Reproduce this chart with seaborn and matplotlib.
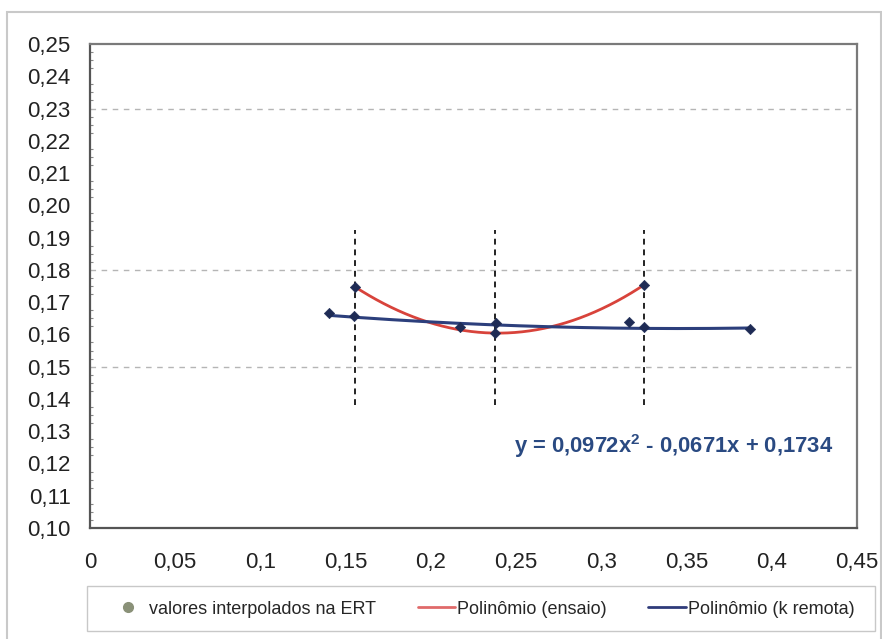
import numpy as np
import pandas as pd
import matplotlib
matplotlib.use("Agg")
import matplotlib.pyplot as plt
import matplotlib.patches as mpatches
from matplotlib.lines import Line2D
from matplotlib.ticker import MultipleLocator, FuncFormatter
import seaborn as sns

# Test points (ensaio) fitted with a quadratic
ensaio_x = [0.1553, 0.2379, 0.3252]
ensaio_y = [0.1748, 0.1604, 0.1754]

# Interpolated values (ERT) along the remote-k curve
ert_x = [0.140, 0.155, 0.217, 0.238, 0.316, 0.325, 0.387]
ert_y = [0.1667, 0.1657, 0.1623, 0.1636, 0.1639, 0.1623, 0.1617]

# Remote-k polynomial coefficients (a2, a1, a0)
k_remota_coef = [0.0972, -0.0671, 0.1734]
k_remota_range = [0.140, 0.387]

# Vertical marker spans at the test points
vline_ymin, vline_ymax = 0.138, 0.1925

# Dashed horizontal reference levels
grid_levels = [0.15, 0.18, 0.23]

legend_labels = ["valores interpolados na ERT", "Polinômio (ensaio)", "Polinômio (k remota)"]
equation_text = r"y = 0,0972x$^{\mathbf{2}}$ - 0,0671x + 0,1734"

sns.set_theme(style="white")
plt.rcParams["font.family"] = ["Liberation Sans", "DejaVu Sans"]
plt.rcParams["mathtext.fontset"] = "custom"
plt.rcParams["mathtext.rm"] = "Liberation Sans"
plt.rcParams["mathtext.bf"] = "Liberation Sans:bold"

W, H = 882, 639
fig = plt.figure(figsize=(W / 100, H / 100), dpi=100)
ax = fig.add_axes([90 / W, 1 - 528 / H, (857 - 90) / W, (528 - 44) / H])

red = "#d8433b"
navy = "#2c3f7c"
marker_c = "#1e2b55"

for g in grid_levels:
    ax.axhline(g, color="#b5b5b5", lw=1.0, ls=(0, (4, 4)), zorder=0)

ax.vlines(ensaio_x, vline_ymin, vline_ymax, colors="#222222", lw=1.4,
          linestyles=(0, (3, 2.5)), zorder=1)

# Quadratic fit through the test points
c2 = np.polyfit(ensaio_x, ensaio_y, 2)
xr = np.linspace(min(ensaio_x), max(ensaio_x), 200)
df_red = pd.DataFrame({"x": xr, "y": np.polyval(c2, xr)})
sns.lineplot(data=df_red, x="x", y="y", color=red, lw=2.0, ax=ax, zorder=3)

xb = np.linspace(k_remota_range[0], k_remota_range[1], 200)
df_blue = pd.DataFrame({"x": xb, "y": np.polyval(k_remota_coef, xb)})
sns.lineplot(data=df_blue, x="x", y="y", color=navy, lw=2.2, ax=ax, zorder=4)

pts = pd.DataFrame({"x": ert_x + ensaio_x, "y": ert_y + ensaio_y})
sns.scatterplot(data=pts, x="x", y="y", marker="D", s=28, color=marker_c,
                edgecolor=marker_c, ax=ax, zorder=5)

ax.text(0.2485, 0.1255, equation_text, color="#2a4a82", fontsize=15.8,
        fontweight="bold", va="center", ha="left")

ax.set_xlim(0, 0.45)
ax.set_ylim(0.10, 0.25)
ax.xaxis.set_major_locator(MultipleLocator(0.05))
ax.yaxis.set_major_locator(MultipleLocator(0.01))
ax.yaxis.set_minor_locator(MultipleLocator(0.0025))
ax.xaxis.set_major_formatter(FuncFormatter(lambda v, p: f"{round(v, 2):g}".replace(".", ",")))
ax.yaxis.set_major_formatter(FuncFormatter(lambda v, p: f"{v:.2f}".replace(".", ",")))
ax.tick_params(axis="x", direction="out", length=5, width=1, color="#555555",
               labelsize=16, pad=12, labelcolor="#222222")
ax.tick_params(axis="y", which="major", direction="in", length=4, width=1,
               color="#666666", labelsize=16, pad=14, labelcolor="#222222")
ax.tick_params(axis="y", which="minor", direction="in", length=2, width=0.8,
               color="#888888", left=True)
ax.set_xlabel("")
ax.set_ylabel("")
for s in ax.spines.values():
    s.set_visible(True)
    s.set_color("#7a7a7a")
    s.set_linewidth(1.6)
ax.spines["left"].set_color("#555555")
ax.spines["bottom"].set_color("#555555")

# Legend row below the plot
handles = [
    Line2D([], [], marker="o", ls="none", color="#8a9178", markersize=7),
    Line2D([], [], color="#e06a6a", lw=2),
    Line2D([], [], color="#2f3b7a", lw=2),
]
leg = fig.legend(handles, legend_labels, loc="center left", ncol=3,
                 bbox_to_anchor=(93 / W, 1 - 609 / H), frameon=False,
                 fontsize=13, handlelength=2.1, handletextpad=0.1,
                 columnspacing=2.3, borderpad=0.4)
fig.patches.append(mpatches.Rectangle((87 / W, 1 - 631 / H), (875 - 87) / W, 45 / H,
                                      transform=fig.transFigure, fill=False,
                                      edgecolor="#c8c8c8", lw=1.0))

fig.patches.append(mpatches.Rectangle((7 / W, -0.01), 874 / W, 1 - 12 / H + 0.01,
                                      transform=fig.transFigure, fill=False,
                                      edgecolor="#c9c9c9", lw=1.5))

fig.savefig("out.png", dpi=100)
